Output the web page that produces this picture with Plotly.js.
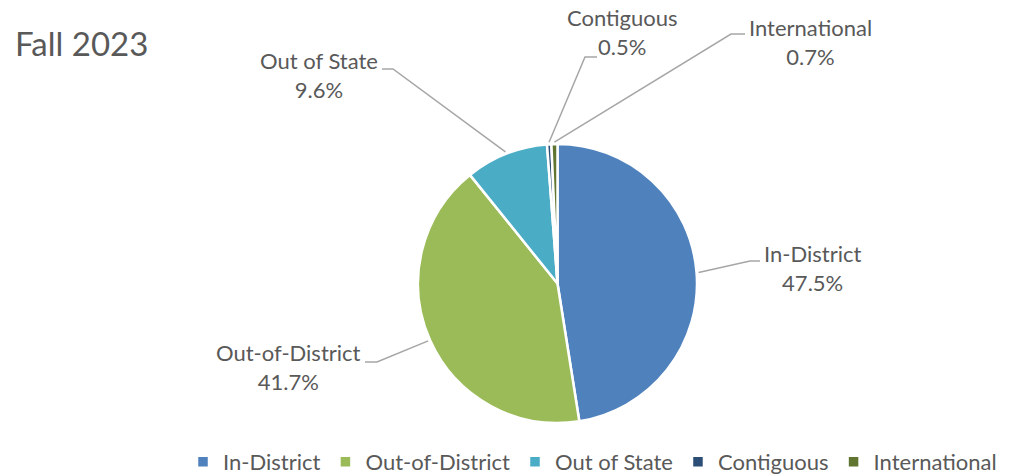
<!DOCTYPE html>
<html>
<head>
<meta charset="utf-8">
<script src="https://cdn.plot.ly/plotly-3.0.1.min.js"></script>
<style>html,body{margin:0;padding:0;background:#fff;}#chart{width:1011px;height:474px;}</style>
</head>
<body>
<div id="chart"></div>
<script>
// ---- data ----
const categories = ["In-District", "Out-of-District", "Out of State", "Contiguous", "International"];
const percents = [47.5, 41.7, 9.6, 0.5, 0.7];
const titleText = "Fall 2023";

// ---- styles / layout ----
const colors = ["#4F81BD", "#9BBB59", "#4BACC6", "#2C4D75", "#5F7530"];
const W = 1011, H = 474;
const FONT = "Lato, 'Liberation Sans', Arial, sans-serif";
const TEXT_COLOR = "#595959";
const LINE_COLOR = "#A6A6A6";
const pie = {cx: 557.5, cy: 283.5, r: 139.5};
// label placement (pixels): label block centre, elbow point, end of horizontal tick
const labelLayout = [
  {lx: 812, ly: 268, elbow: [750, 261], tick: [760, 261]},
  {lx: 288, ly: 367, elbow: [377, 362], tick: [365, 362]},
  {lx: 319, ly: 75, elbow: [393, 69], tick: [382, 69]},
  {lx: 622, ly: 32, elbow: [585, 57], tick: [597, 57]},
  {lx: 810, ly: 42, elbow: [731, 34], tick: [745, 34]}
];

const px = x => x / W;
const py = y => 1 - y / H;

const total = percents.reduce((a, b) => a + b, 0);
const annotations = [];
const shapes = [];
let cum = 0;
percents.forEach((v, i) => {
  const mid = (cum + v / 2) / total * 2 * Math.PI;
  cum += v;
  const ex = pie.cx + (pie.r + 2) * Math.sin(mid);
  const ey = pie.cy - (pie.r + 2) * Math.cos(mid);
  const L = labelLayout[i];
  annotations.push({
    xref: "paper", yref: "paper", x: px(L.lx), y: py(L.ly),
    xanchor: "center", yanchor: "middle", showarrow: false, align: "center",
    text: categories[i] + "<br>" + v.toFixed(1) + "%",
    font: {family: FONT, size: 22, color: TEXT_COLOR}
  });
  shapes.push({
    type: "path", xref: "paper", yref: "paper",
    path: `M${px(ex)},${py(ey)} L${px(L.elbow[0])},${py(L.elbow[1])} L${px(L.tick[0])},${py(L.tick[1])}`,
    line: {color: LINE_COLOR, width: 1.5}
  });
});

const trace = {
  type: "pie",
  labels: categories,
  values: percents,
  sort: false,
  direction: "clockwise",
  rotation: 0,
  textinfo: "none",
  hoverinfo: "label+percent",
  marker: {colors: colors, line: {color: "#FFFFFF", width: 2.5}},
  domain: {
    x: [px(pie.cx - pie.r), px(pie.cx + pie.r)],
    y: [py(pie.cy + pie.r), py(pie.cy - pie.r)]
  },
  automargin: false
};

const layout = {
  width: W, height: H,
  margin: {l: 0, r: 0, t: 0, b: 0, autoexpand: false},
  paper_bgcolor: "#FFFFFF",
  font: {family: FONT, color: TEXT_COLOR},
  title: {
    text: titleText, x: 15 / W, xanchor: "left", xref: "paper",
    y: 1 - 44 / H, yanchor: "middle", yref: "container",
    font: {family: FONT, size: 33, color: TEXT_COLOR}
  },
  showlegend: true,
  legend: {
    orientation: "h", x: 183 / W, xanchor: "left",
    y: 12 / H, yanchor: "middle", yref: "container",
    font: {family: FONT, size: 22, color: TEXT_COLOR},
    itemclick: false, traceorder: "normal", itemwidth: 30
  },
  annotations: annotations,
  shapes: shapes
};

Plotly.newPlot("chart", [trace], layout, {displayModeBar: false, staticPlot: true});
</script>
</body>
</html>
